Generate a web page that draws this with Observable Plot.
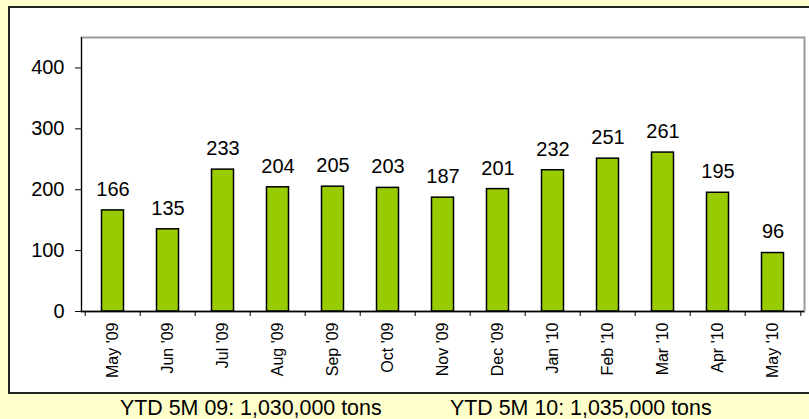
<!DOCTYPE html>
<html>
<head>
<meta charset="utf-8">
<script src="https://cdn.jsdelivr.net/npm/d3@7"></script>
<script src="https://cdn.jsdelivr.net/npm/@observablehq/plot@0.6"></script>
<style>
  html, body { margin: 0; padding: 0; }
  body { width: 809px; height: 419px; background: #FFFFCC; position: relative; overflow: hidden; font-family: "Liberation Sans", Arial, sans-serif; }
  #box { position: absolute; left: 8px; top: 6px; width: 812px; height: 384px; background: #fff; border: 2px solid #222; }
  #chart { position: absolute; left: 0; top: 0; }
  .cap { position: absolute; top: 396px; font-size: 21.4px; color: #000; white-space: nowrap; }
</style>
</head>
<body>
<div id="box"></div>
<div id="chart"></div>
<div class="cap" id="cap0" style="left:120px"></div>
<div class="cap" id="cap1" style="left:450px"></div>
<script>
const months = ["May '09", "Jun '09", "Jul '09", "Aug '09", "Sep '09", "Oct '09", "Nov '09", "Dec '09", "Jan '10", "Feb '10", "Mar '10", "Apr '10", "May '10"];
const values = [166, 135, 233, 204, 205, 203, 187, 201, 232, 251, 261, 195, 96];
const yTicks = [0, 100, 200, 300, 400];
const captions = ["YTD 5M 09: 1,030,000 tons", "YTD 5M 10: 1,035,000 tons"];

const data = months.map((m, i) => ({month: m, value: values[i]}));

const W = 809, H = 392;
const mL = 81, mR = 5, mT = 37, mB = 81;
const bw = (W - mL - mR) / months.length;

const chart = Plot.plot({
  width: W,
  height: H,
  marginLeft: mL,
  marginRight: mR,
  marginTop: mT,
  marginBottom: mB,
  style: {background: "transparent", fontFamily: "Liberation Sans, Arial, sans-serif", color: "#000"},
  x: {domain: months, padding: 0, axis: null},
  y: {domain: [0, 450], axis: null},
  marks: [
    Plot.frame({stroke: "#999", strokeWidth: 2}),
    Plot.barY(data, {x: "month", y: "value", fill: "#99CC00", stroke: "#000", strokeWidth: 1.5, insetLeft: 16.5, insetRight: 16.5}),
    Plot.frame({anchor: "left", stroke: "#000", strokeWidth: 1}),
    Plot.ruleY([0], {stroke: "#000", strokeWidth: 1.5}),
    Plot.axisY({ticks: yTicks, tickSize: 6, tickPadding: 11, fontSize: 20, label: null, stroke: "#000", fill: "#000"}),
    Plot.axisX({fill: "none", tickSize: 5, dx: -bw / 2, stroke: "#000"}),
    Plot.axisX([months[months.length - 1]], {fill: "none", tickSize: 5, dx: bw / 2, stroke: "#000"}),
    Plot.axisX({tickSize: 0, tickRotate: -90, tickPadding: 11, fontSize: 16, label: null, fill: "#000"}),
    Plot.text(data, {x: "month", y: "value", text: d => String(d.value), dy: -21, fontSize: 20, fill: "#000"})
  ]
});
document.getElementById("chart").appendChild(chart);
document.getElementById("cap0").textContent = captions[0];
document.getElementById("cap1").textContent = captions[1];
</script>
</body>
</html>
